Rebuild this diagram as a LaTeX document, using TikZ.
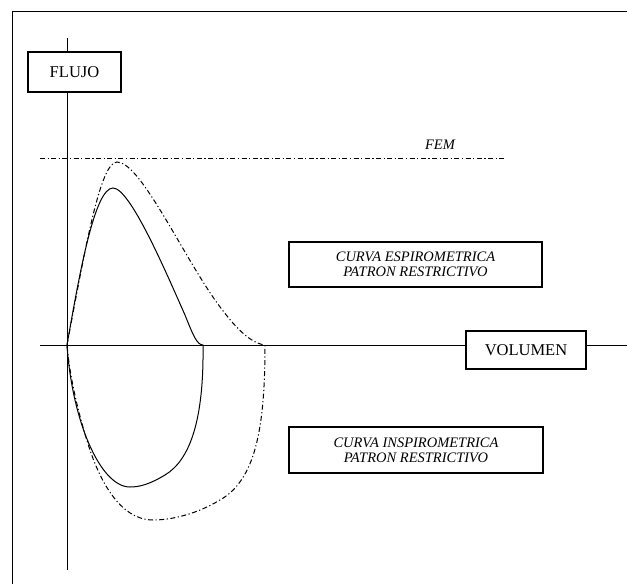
\documentclass[tikz,border=0pt]{standalone}
\usepackage{fontspec}
\setmainfont{Liberation Serif}
\usepackage{tikz}
\usetikzlibrary{positioning}

\begin{document}
\begin{tikzpicture}[x=1pt,y=-1pt,line width=1pt,
  every text node part/.style={align=center},
  box/.style={rectangle,draw=black,fill=white,inner sep=0pt,line width=1.2pt},
  upr/.style={font=\fontsize{16.5}{18}\selectfont},
  itl/.style={font=\fontsize{14.5}{14.8}\selectfont\itshape},
  dd/.style={dash pattern=on 5pt off 2.5pt on 1.2pt off 2.5pt}]
  \useasboundingbox (0,0) rectangle (627,584);
  \draw (12,584) -- (12,11) -- (627,11);
  % axes
  \coordinate (0) at (67,345);
  \coordinate (1) at (67,38);
  \coordinate (2) at (67,570);
  \coordinate (3) at (40,345);
  \coordinate (4) at (627,345);
  \draw (1) -- (2);
  \draw (3) -- (4);
  \node[box,upr,minimum width=93pt,minimum height=40pt] (5) at (74.5,72) {FLUJO};
  \node[box,upr,minimum width=120pt,minimum height=38pt] (6) at (526,350) {VOLUMEN};
  % FEM
  \coordinate (7) at (40,158);
  \coordinate (8) at (505,158);
  \draw[dd] (7) -- (8);
  \node[itl] (9) at (440,145) {FEM};
  % curves
  \coordinate (10) at (203,345);
  \coordinate (11) at (265,345);
  \draw (0) .. controls (80,270) and (95,188) .. (113,188)
    .. controls (130,188) and (165,270) .. (185,315)
    .. controls (193,335) and (197,345) .. (10)
    .. controls (204,420) and (190,460) .. (165,475)
    .. controls (150,484) and (140,487) .. (130,487)
    .. controls (100,487) and (72,420) .. (0);
  \draw[dd] (0) .. controls (85,250) and (100,162) .. (117,162)
    .. controls (140,162) and (180,250) .. (215,300)
    .. controls (235,328) and (250,343) .. (11)
    .. controls (265,430) and (255,480) .. (220,500)
    .. controls (195,515) and (170,520) .. (153,520)
    .. controls (120,520) and (100,480) .. (90,450)
    .. controls (80,420) and (70,380) .. (0);
  % labels
  \node[box,itl,minimum width=253pt,minimum height=45pt] (12) at (415.5,264.5) {CURVA ESPIROMETRICA\\PATRON RESTRICTIVO};
  \node[box,itl,minimum width=254pt,minimum height=46pt] (13) at (416,450) {CURVA INSPIROMETRICA\\PATRON RESTRICTIVO};
\end{tikzpicture}
\end{document}
